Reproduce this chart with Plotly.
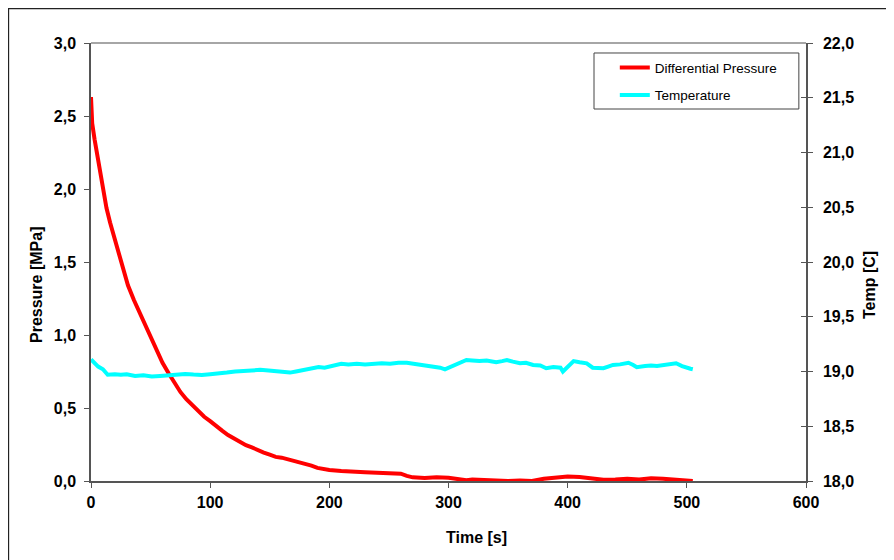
import plotly.graph_objects as go

# pressure trace, time in s, pressure in MPa
t_p = [0, 1, 3, 5, 8, 10, 13, 16, 20, 24, 28, 31, 36, 41, 46, 50, 55, 60, 65, 70,
       75, 80, 85, 90, 95, 100, 105, 110, 115, 120, 125, 130, 135, 140, 145, 150, 155, 160, 165, 170,
       175, 180, 185, 190, 195, 200, 210, 220, 230, 240, 250, 260, 265, 270, 280, 290, 300, 310, 315, 320,
       330, 340, 350, 360, 370, 380, 390, 400, 410, 420, 430, 440, 450, 460, 470, 480, 490, 500, 505]
pressure = [2.63, 2.45, 2.34, 2.24, 2.10, 1.99, 1.87, 1.77, 1.65, 1.53, 1.42, 1.34, 1.24, 1.15, 1.06, 0.99, 0.90, 0.81, 0.74, 0.67,
            0.61, 0.56, 0.52, 0.48, 0.44, 0.41, 0.375, 0.345, 0.315, 0.29, 0.265, 0.245, 0.23, 0.21, 0.195, 0.18, 0.165, 0.16, 0.15, 0.14,
            0.125, 0.115, 0.105, 0.09, 0.08, 0.075, 0.068, 0.062, 0.06, 0.057, 0.055, 0.05, 0.035, 0.025, 0.02, 0.025, 0.022, 0.015, 0.005, 0.01,
            0.005, 0.002, 0.0, 0.003, 0.0, 0.015, 0.025, 0.03, 0.028, 0.02, 0.008, 0.01, 0.015, 0.01, 0.018, 0.015, 0.01, 0.005, 0.0]

# temperature trace, deg C
t_t = [0, 3, 6, 10, 14, 20, 25, 30, 37, 44, 51, 58, 65, 72, 79, 86, 93, 100, 107, 114,
       121, 128, 135, 142, 149, 156, 163, 167, 172, 177, 184, 191, 196, 202, 206, 210, 216, 223, 230, 237,
       244, 251, 258, 265, 272, 279, 286, 293, 297, 301, 304, 310, 315, 320, 326, 332, 336, 340, 345, 349,
       354, 360, 365, 371, 377, 382, 388, 394, 396, 400, 405, 410, 416, 421, 426, 430, 434, 438, 444, 451,
       455, 458, 465, 470, 475, 480, 486, 491, 496, 500, 503, 505]
temp = [19.11, 19.08, 19.045, 19.02, 18.97, 18.975, 18.97, 18.975, 18.96, 18.965, 18.955, 18.96, 18.968, 18.975, 18.978, 18.972, 18.968, 18.975, 18.98, 18.99,
        19.0, 19.005, 19.01, 19.015, 19.01, 19.005, 19.0, 18.99, 19.0, 19.01, 19.02, 19.04, 19.035, 19.05, 19.06, 19.07, 19.065, 19.07, 19.065, 19.07,
        19.075, 19.07, 19.08, 19.08, 19.07, 19.06, 19.05, 19.035, 19.02, 19.04, 19.05, 19.08, 19.105, 19.1, 19.095, 19.1, 19.095, 19.085, 19.095, 19.105,
        19.09, 19.075, 19.08, 19.06, 19.055, 19.03, 19.04, 19.035, 19.0, 19.04, 19.095, 19.085, 19.075, 19.035, 19.03, 19.03, 19.045, 19.06, 19.065, 19.08,
        19.06, 19.04, 19.05, 19.055, 19.05, 19.06, 19.065, 19.075, 19.05, 19.03, 19.025, 19.02]

FONT = "Liberation Sans"
bold = dict(family=FONT, size=16, color="black", weight="bold")

fig = go.Figure()
fig.add_trace(go.Scatter(x=t_p, y=pressure, mode="lines", name="Differential Pressure",
                         line=dict(color="#ff0000", width=4), legendgroup="a"))
fig.add_trace(go.Scatter(x=t_t, y=temp, mode="lines", name="Temperature", yaxis="y2",
                         line=dict(color="#00ffff", width=4), legendgroup="b"))
# empty trace so the inner tick half of the right axis gets drawn
fig.add_trace(go.Scatter(x=[None], y=[None], yaxis="y3", showlegend=False, hoverinfo="skip"))

fig.update_layout(
    width=894, height=560,
    margin=dict(l=83, r=96, t=35, b=87),
    paper_bgcolor="white", plot_bgcolor="white",
    separators=",.",
    font=dict(family=FONT),
    xaxis=dict(range=[0, 600], dtick=100, showgrid=False, zeroline=False,
               showline=True, linecolor="#555", linewidth=1.5,
               ticks="outside", ticklen=5, tickcolor="#555", tickfont=bold,
               ticklabelstandoff=1),
    yaxis=dict(range=[0, 3], dtick=0.5, tickformat=".1f", showgrid=False, zeroline=False,
               showline=True, linecolor="#555", linewidth=1.5,
               ticks="outside", ticklen=5, tickcolor="#555", tickfont=bold,
               ticklabelstandoff=5),
    yaxis2=dict(range=[18, 22], dtick=0.5, tickformat=".1f", overlaying="y", side="right",
                showgrid=False, zeroline=False, showline=True, linecolor="#555", linewidth=1.5,
                ticks="outside", ticklen=5, tickcolor="#555", tickfont=bold,
                ticklabelstandoff=7),
    yaxis3=dict(range=[18, 22], dtick=0.5, overlaying="y", side="right",
                showgrid=False, zeroline=False, showline=False,
                ticks="inside", ticklen=5, tickcolor="#555", showticklabels=False),
    legend=dict(x=0.7326, y=0.979, xanchor="left", yanchor="top",
                bgcolor="rgba(0,0,0,0)", borderwidth=0,
                font=dict(family=FONT, size=13.5, color="black"),
                traceorder="grouped", tracegroupgap=7),
    showlegend=True,
)

fig.add_shape(type="line", xref="paper", yref="paper", x0=0, x1=1, y0=1, y1=1,
              line=dict(color="#888", width=1.5))
fig.add_shape(type="rect", xref="paper", yref="paper", x0=0.7035, x1=0.990, y0=0.8493, y1=0.9772,
              line=dict(color="#444", width=1))
# outer chart frame
fig.add_shape(type="rect", xref="paper", yref="paper", x0=-0.1155, x1=1.3, y0=-0.4, y1=1.0788,
              line=dict(color="#222", width=1.5), layer="below")

fig.add_annotation(text="Pressure [MPa]", xref="paper", yref="paper", x=-0.0755, y=0.4475,
                   xanchor="center", yanchor="middle", textangle=-90, showarrow=False, font=bold)
fig.add_annotation(text="Temp [C]", xref="paper", yref="paper", x=1.0895, y=0.4475,
                   xanchor="center", yanchor="middle", textangle=-90, showarrow=False, font=bold)
fig.add_annotation(text="Time [s]", xref="paper", yref="paper", x=0.5385, y=-0.1279,
                   xanchor="center", yanchor="middle", showarrow=False, font=bold)

fig.write_html("out.html")
